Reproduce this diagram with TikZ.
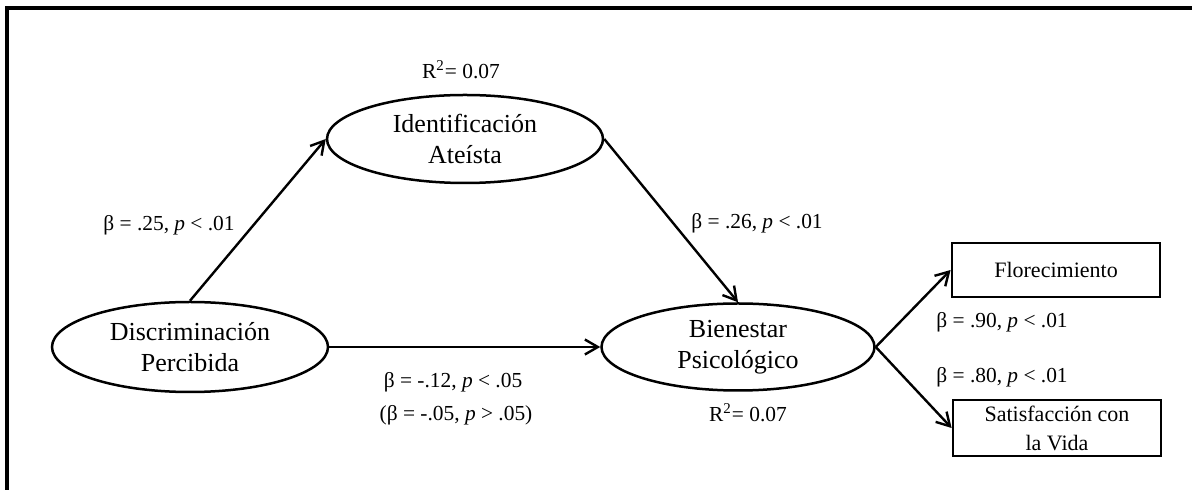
\documentclass[tikz,border=0pt]{standalone}
\usepackage{fontspec}
\setmainfont{Liberation Serif}
\usetikzlibrary{arrows.meta,shapes.geometric}
\begin{document}
\begin{tikzpicture}[x=0.5pt,y=-0.5pt,
  lv/.style={ellipse,draw,line width=1.25pt,inner sep=0pt,align=center,
    font=\fontsize{13}{15.5}\selectfont},
  ov/.style={rectangle,draw,line width=1.4pt,inner sep=0pt,align=center,
    minimum width=104pt,font=\fontsize{11}{14.5}\selectfont},
  lab/.style={inner sep=0pt,font=\fontsize{10.7}{13}\selectfont},
  arr/.style={line width=1.2pt,-{Straight Barb[length=6.5pt,width=7.5pt,line width=1.2pt]}}]
\clip (0,0) rectangle (1192,490);
\fill[white] (0,0) rectangle (1192,490);
\draw[line width=1.6pt] (7,520) -- (7,8) -- (1220,8);

\node[lv,minimum width=138pt,minimum height=44pt] (ident) at (465,139) {Identificación\\Ateísta};
\node[lv,minimum width=138pt,minimum height=45pt] (disc) at (190,347) {Discriminación\\Percibida};
\node[lv,minimum width=136.5pt,minimum height=43.5pt] (bien) at (738,347) {Bienestar\\Psicológico};
\node[ov,minimum height=27pt] (flor) at (1056,270) {Florecimiento};
\node[ov,minimum height=28pt] (sat) at (1057,428) {Satisfacción con\\la Vida};

\node[lab] (r1) at (461,70) {R\textsuperscript{2}= 0.07};
\node[lab] (r2) at (748,413) {R\textsuperscript{2}= 0.07};
\node[lab] (l1) at (169,225) {β = .25, \textit{p} < .01};
\node[lab] (l2) at (757,223) {β = .26, \textit{p} < .01};
\node[lab] (l3) at (453,382) {β = -.12, \textit{p} < .05};
\node[lab] (l4) at (456,415) {(β = -.05, \textit{p} > .05)};
\node[lab] (l5) at (1002,322) {β = .90, \textit{p} < .01};
\node[lab] (l6) at (1002,377) {β = .80, \textit{p} < .01};

\draw[arr] (disc.north) -- (ident.west);
\draw[arr] (ident.east) -- (bien.north);
\draw[arr] (disc.east) -- (bien.west);
\draw[arr] (bien.east) -- (flor.west);
\draw[arr] (bien.east) -- (sat.west);
\end{tikzpicture}
\end{document}
